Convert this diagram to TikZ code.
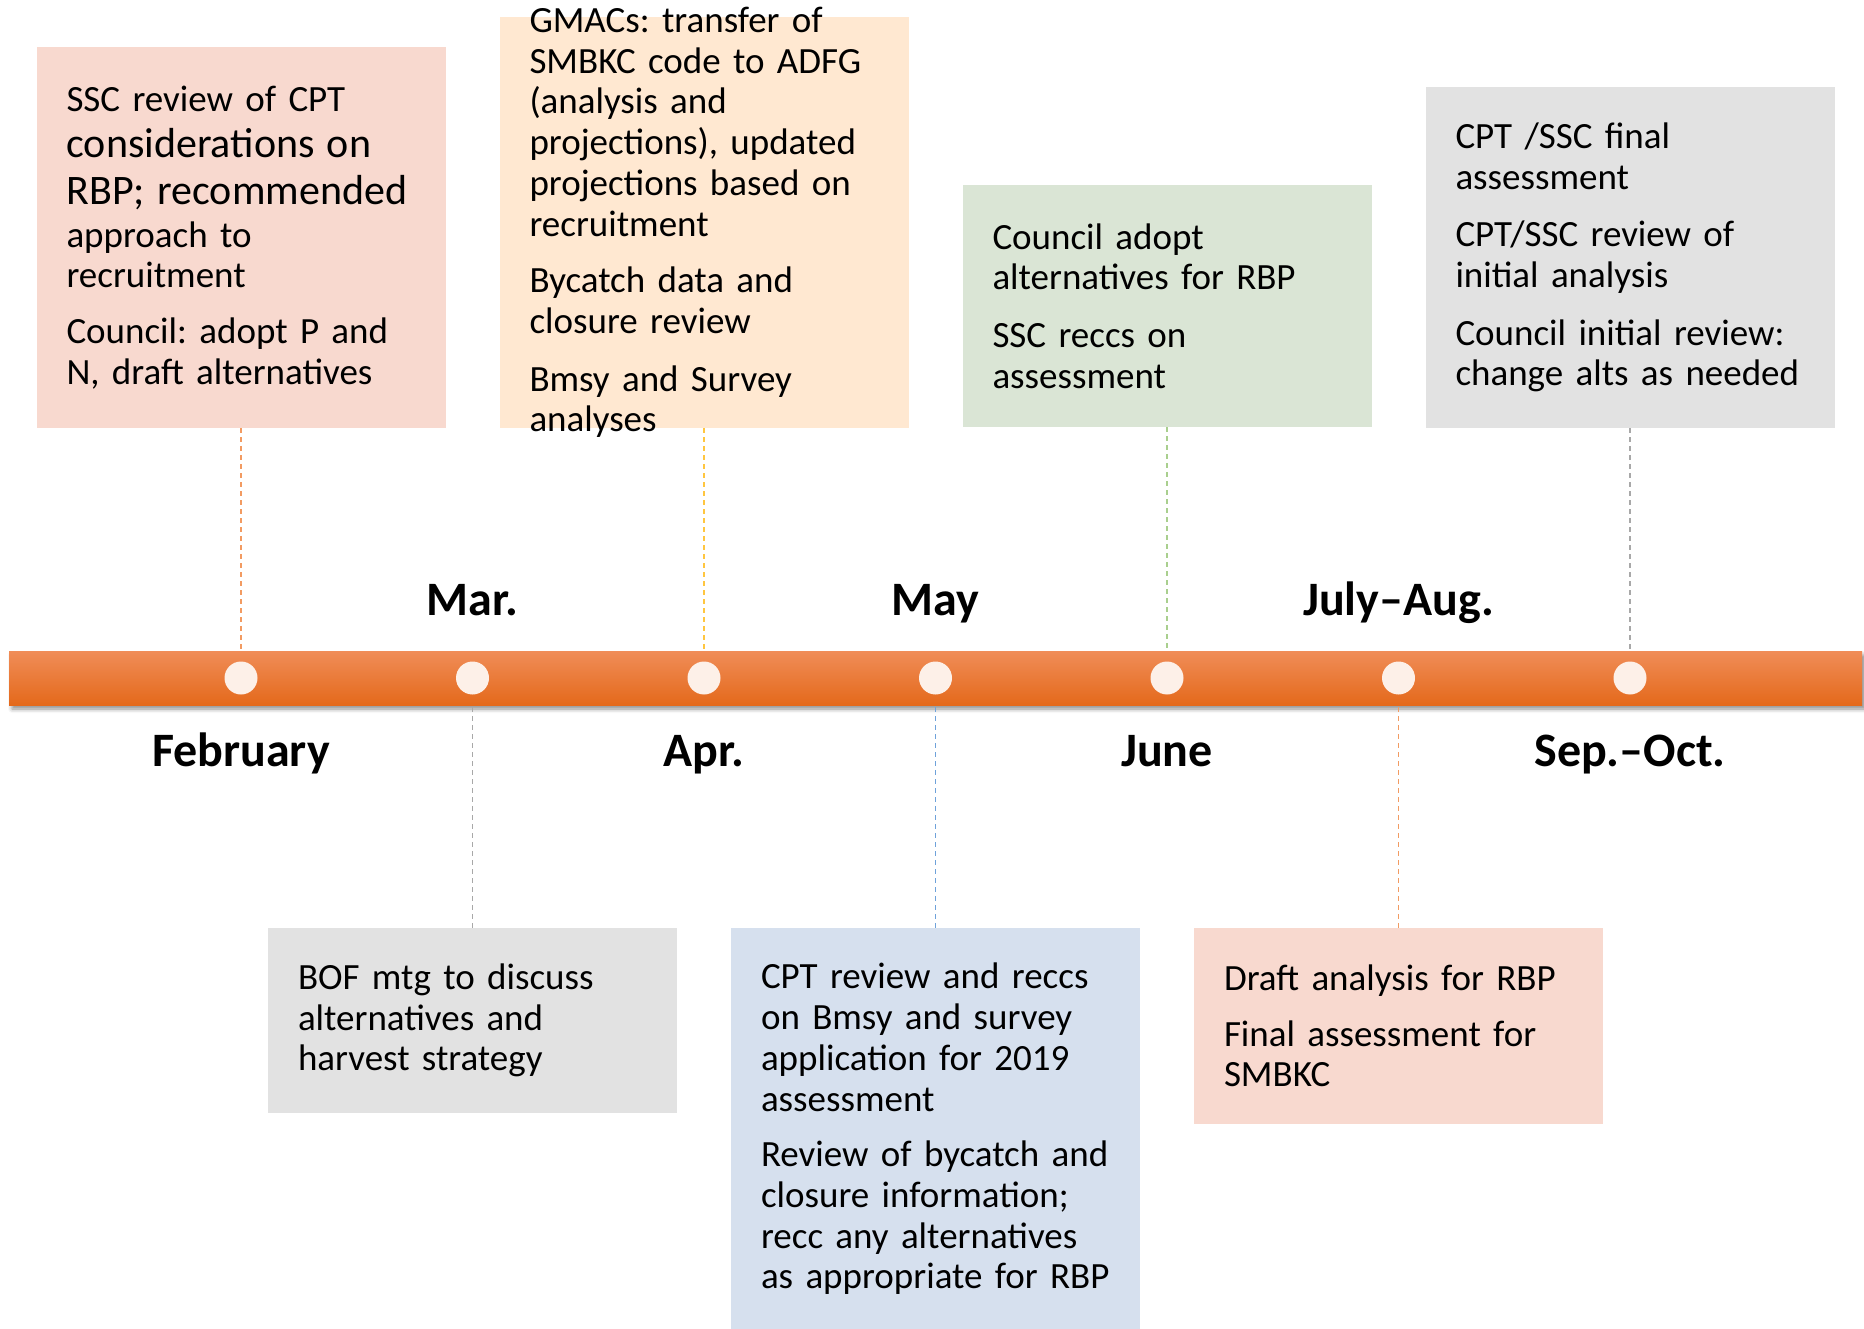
\documentclass[tikz,border=0pt]{standalone}
\usepackage{fontspec}
\setmainfont{Carlito}
\usetikzlibrary{positioning,shadows.blur}

\definecolor{pinkbox}{HTML}{F8D9CF}
\definecolor{peachbox}{HTML}{FFE8D1}
\definecolor{greenbox}{HTML}{DAE5D5}
\definecolor{graybox}{HTML}{E2E2E2}
\definecolor{bluebox}{HTML}{D6E0EE}
\definecolor{bartop}{HTML}{F08D58}
\definecolor{barmid}{HTML}{F47B2B}
\definecolor{barbot}{HTML}{E4691B}
\definecolor{dotfill}{HTML}{FDF0E8}
\definecolor{linkorange}{HTML}{F29B62}
\definecolor{linkyellow}{HTML}{FFC640}
\definecolor{linkgreen}{HTML}{A9CF8E}
\definecolor{linkgray}{HTML}{A8A8A8}
\definecolor{linkblue}{HTML}{6FA2DA}

\tikzset{
  bar/.style={rectangle,inner sep=0pt,minimum width=1853pt,minimum height=54pt,
              top color=bartop,middle color=barmid,bottom color=barbot,draw=none,
              blur shadow={shadow xshift=3pt,shadow yshift=-4pt,shadow blur radius=4pt,shadow opacity=45}},
  dot/.style={circle,fill=dotfill,inner sep=0pt,minimum size=33pt},
  evbox/.style={rectangle,inner sep=0pt,minimum width=409pt},
  evtext/.style={text width=349pt,align=left,inner sep=0pt,
                 font={\fontsize{37}{40.7}\selectfont\frenchspacing\spaceskip=0.2em plus 0.1em minus 0.05em\relax}},
  month/.style={anchor=base,inner sep=0pt,font=\fontsize{48}{54}\selectfont\bfseries},
  link/.style={line width=1.6pt,dash pattern=on 5pt off 4pt}
}

\begin{document}
\begin{tikzpicture}[x=1pt,y=-1pt]
  \useasboundingbox (0,0) rectangle (1864,1329);

  % timeline
  \node[bar] (bar) at (935.5,678) {};
  \node[dot] (dot-feb) at (241,678) {};
  \node[dot] (dot-mar) at (472.5,678) {};
  \node[dot] (dot-apr) at (704,678) {};
  \node[dot] (dot-may) at (935.5,678) {};
  \node[dot] (dot-jun) at (1167,678) {};
  \node[dot] (dot-jul) at (1398.5,678) {};
  \node[dot] (dot-sep) at (1630,678) {};

  \node[month] (mar label) at (472.5,615) {Mar.};
  \node[month] (may label) at (935.5,615) {May};
  \node[month] (jul label) at (1398.5,615) {July–Aug.};
  \node[month] (feb label) at (241,766) {February};
  \node[month] (apr label) at (704,766) {Apr.};
  \node[month] (jun label) at (1167,766) {June};
  \node[month] (sep label) at (1630,766) {Sep.–Oct.};

  % boxes above
  \node[evbox,fill=pinkbox,minimum height=381pt] (feb box) at (241,237.5) {};
  \node[evtext] (feb text) at (feb box) {SSC review of CPT\\[5.3pt]
    {\fontsize{42}{46}\selectfont considerations on}\\[6.3pt]
    {\fontsize{42}{46}\selectfont RBP; recommended}\\[2.3pt]
    approach to\\
    recruitment\\[15.3pt]
    Council: adopt P and\\
    N, draft alternatives};

  \node[evbox,fill=peachbox,minimum height=411pt] (apr box) at (704,222.5) {};
  \node[evtext] (apr text) at (apr box) {GMACs: transfer of\\
    SMBKC code to ADFG\\
    (analysis and\\
    projections), updated\\
    projections based on\\
    recruitment\\[16pt]
    Bycatch data and\\
    closure review\\[17pt]
    Bmsy and Survey\\
    analyses};

  \node[evbox,fill=greenbox,minimum height=242pt] (jun box) at (1167,306) {};
  \node[evtext] (jun text) at (jun box) {Council adopt\\
    alternatives for RBP\\[17pt]
    SSC reccs on\\
    assessment};

  \node[evbox,fill=graybox,minimum height=341pt] (sep box) at (1630,257.5) {};
  \node[evtext] (sep text) at (sep box) {CPT /SSC final\\
    assessment\\[17pt]
    CPT/SSC review of\\
    initial analysis\\[17pt]
    Council initial review:\\
    change alts as needed};

  % boxes below
  \node[evbox,fill=graybox,minimum height=185pt] (mar box) at (472.5,1020.5) {};
  \node[evtext] (mar text) at (mar box) {BOF mtg to discuss\\
    alternatives and\\
    harvest strategy};

  \node[evbox,fill=bluebox,minimum height=402pt] (may box) at (935.5,1129) {};
  \node[evtext] (may text) at (may box) {CPT review and reccs\\
    on Bmsy and survey\\
    application for 2019\\
    assessment\\[15pt]
    Review of bycatch and\\
    closure information;\\
    recc any alternatives\\
    as appropriate for RBP};

  \node[evbox,fill=pinkbox,minimum height=196pt] (jul box) at (1398.5,1026) {};
  \node[evtext] (jul text) at (jul box) {Draft analysis for RBP\\[15pt]
    Final assessment for\\
    SMBKC};

  % leaders
  \draw[link,linkorange] (feb box.south) -- (feb box.south |- bar.north);
  \draw[link,linkyellow] (apr box.south) -- (apr box.south |- bar.north);
  \draw[link,linkgreen] (jun box.south) -- (jun box.south |- bar.north);
  \draw[link,linkgray] (sep box.south) -- (sep box.south |- bar.north);
  \draw[link,linkgray] (mar box.north) -- (mar box.north |- bar.south);
  \draw[link,linkblue] (may box.north) -- (may box.north |- bar.south);
  \draw[link,linkorange] (jul box.north) -- (jul box.north |- bar.south);
\end{tikzpicture}
\end{document}
